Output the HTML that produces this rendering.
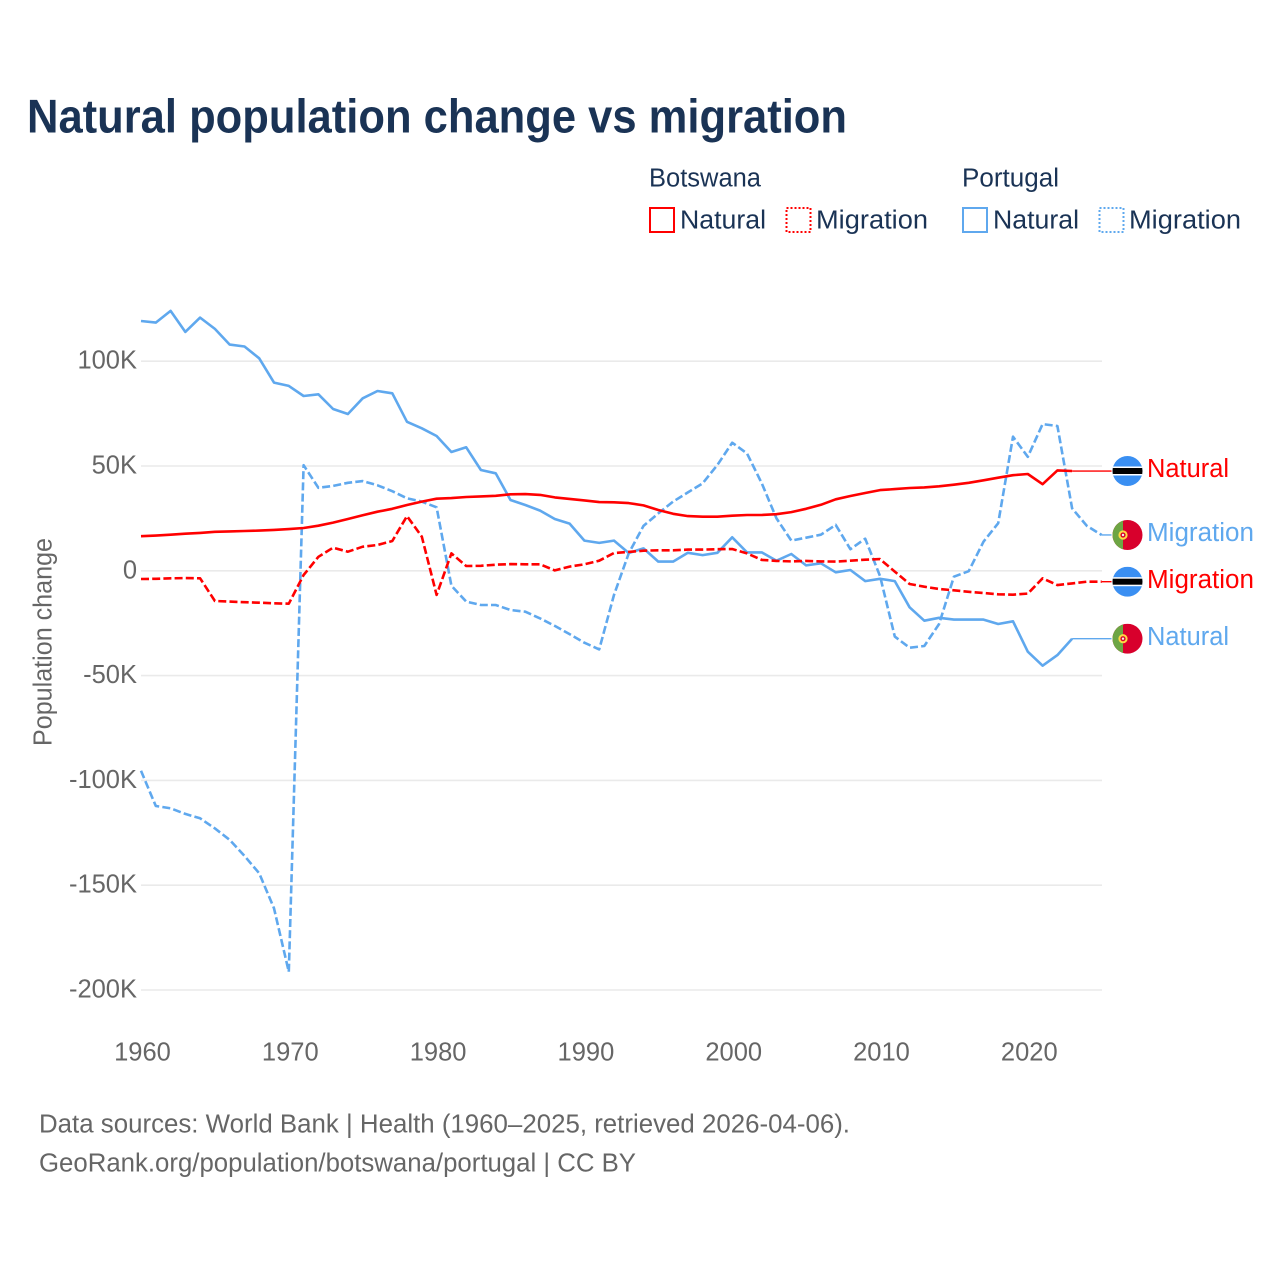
<!DOCTYPE html>
<html lang="en">
<head>
<meta charset="utf-8">
<title>Natural population change vs migration</title>
<style>
html,body{margin:0;padding:0;background:#fff;}
svg{display:block;font-family:"Liberation Sans",sans-serif;}
</style>
</head>
<body>
<svg id="chart" xmlns="http://www.w3.org/2000/svg" width="1280" height="1280" viewBox="0 0 1280 1280">
<defs><clipPath id="flag-clip"><circle cx="0" cy="0" r="15"></circle></clipPath></defs>
<rect x="0" y="0" width="1280" height="1280" fill="#ffffff"></rect>
<text x="27" y="132.5" font-size="47.5" font-weight="700" fill="#1a3355" textLength="820" lengthAdjust="spacingAndGlyphs">Natural population change vs migration</text>

<g>
<text x="649" y="186.5" font-size="25.5" fill="#1a3355" textLength="112" lengthAdjust="spacingAndGlyphs">Botswana</text>
<text x="962" y="186.5" font-size="25.5" fill="#1a3355" textLength="97" lengthAdjust="spacingAndGlyphs">Portugal</text>
<g>
<rect x="650" y="208" width="24" height="24" fill="none" stroke="#ff0000" stroke-width="2"></rect>
<text x="680" y="228.5" font-size="25.5" fill="#1a3355" textLength="86" lengthAdjust="spacingAndGlyphs">Natural</text>
</g>
<g>
<rect x="786.5" y="208" width="24" height="24" fill="none" stroke="#ff0000" stroke-width="2" stroke-dasharray="2,2"></rect>
<text x="816" y="228.5" font-size="25.5" fill="#1a3355" textLength="112" lengthAdjust="spacingAndGlyphs">Migration</text>
</g>
<g>
<rect x="963" y="208" width="24" height="24" fill="none" stroke="#5fa8ee" stroke-width="2"></rect>
<text x="993" y="228.5" font-size="25.5" fill="#1a3355" textLength="86" lengthAdjust="spacingAndGlyphs">Natural</text>
</g>
<g>
<rect x="1099.5" y="208" width="24" height="24" fill="none" stroke="#5fa8ee" stroke-width="2" stroke-dasharray="2,2"></rect>
<text x="1129" y="228.5" font-size="25.5" fill="#1a3355" textLength="112" lengthAdjust="spacingAndGlyphs">Migration</text>
</g>
</g>

<g id="grid"></g>
<g id="y-ticks"></g>
<g id="x-ticks"></g>
<text transform="translate(51.5,746) rotate(-90)" x="0" y="0" font-size="25.5" fill="#666666" textLength="208" lengthAdjust="spacingAndGlyphs">Population change</text>
<g id="series"></g>
<g id="end-labels"></g>

<g>
<text x="39" y="1132.5" font-size="25.5" fill="#666666" textLength="811" lengthAdjust="spacingAndGlyphs">Data sources: World Bank | Health (1960–2025, retrieved 2026-04-06).</text>
<text x="39" y="1171.5" font-size="25.5" fill="#666666" textLength="597" lengthAdjust="spacingAndGlyphs">GeoRank.org/population/botswana/portugal | CC BY</text>
</g>
</svg>
<script>
// Values are in thousands of people, first value is the year 1960.
const firstYear = 1960;
const yTickValues = [100, 50, 0, -50, -100, -150, -200];
const yTickLabels = ["100K", "50K", "0", "-50K", "-100K", "-150K", "-200K"];
const xTickYears = [1960, 1970, 1980, 1990, 2000, 2010, 2020];
const botswanaNatural = [16.5,16.8,17.2,17.7,18.1,18.6,18.8,19,19.2,19.5,19.9,20.4,21.5,23,24.7,26.5,28.2,29.6,31.4,33,34.4,34.7,35.2,35.5,35.8,36.5,36.6,36.2,35,34.3,33.6,32.8,32.7,32.3,31.2,29,27.2,26.1,25.8,25.8,26.3,26.6,26.6,27,28,29.6,31.5,34.1,35.7,37.1,38.5,39,39.5,39.8,40.3,41.1,42,43.2,44.4,45.6,46.2,41.3,47.9,47.6];
const botswanaMigration = [-3.9,-3.8,-3.6,-3.5,-3.6,-14.4,-14.7,-15,-15.2,-15.5,-15.7,-2,6.7,11,9.1,11.5,12.3,14.2,26.1,16.3,-11.5,8.3,2.3,2.4,2.9,3.2,3.1,3.1,0.2,2,3.1,4.8,8.5,9,9.6,9.8,9.8,10.1,10.1,10.3,10.4,8.3,5.2,4.7,4.5,4.7,4.5,4.4,4.8,5.3,5.6,-0.4,-6.3,-7.6,-8.7,-9.3,-10,-10.6,-11.2,-11.4,-10.9,-3.6,-6.8,-6,-5.2,-5.2];
const portugalNatural = [119.2,118.4,124,114,120.8,115.4,107.9,107,101.4,89.8,88.2,83.4,84.2,77.2,74.8,82.3,85.8,84.7,71.1,68,64.3,56.7,58.9,48.1,46.5,33.8,31.4,28.7,24.7,22.5,14.4,13.3,14.4,8.5,10.7,4.4,4.4,8.6,7.5,8.6,16,8.8,8.8,4.8,8,2.6,3.6,-0.7,0.4,-4.9,-3.8,-4.9,-17.4,-23.8,-22.4,-23.3,-23.3,-23.3,-25.4,-24.1,-38.6,-45.3,-40.2,-32.4];
const portugalMigration = [-95.4,-112.2,-113.3,-116,-118.1,-122.9,-128.4,-136,-144.3,-161,-191.3,50.4,39.6,40.5,42,42.8,40.8,38,34.6,33,30.3,-7.1,-14.7,-16.3,-16.3,-18.7,-19.5,-22.7,-26.3,-30.2,-34.3,-37.5,-11.5,8.3,21.4,27.4,33,37.4,41.7,50.5,61.1,56,41.7,25,14.4,15.8,17.2,21.9,10.3,15.3,-2.5,-31.4,-36.7,-35.9,-25.4,-2.8,-0.2,13.9,22.7,64,54.4,70,69.1,29.8,21.4,17.1];

const NS = "http://www.w3.org/2000/svg";
function xScale(year) { return 141 + (year - 1960) * 14.78; }
function yScale(v) { return 570.8 - v * 2.096; }
function make(tag, attrs, parent) {
  const el = document.createElementNS(NS, tag);
  for (const k in attrs) el.setAttribute(k, attrs[k]);
  parent.appendChild(el);
  return el;
}

const gridG = document.getElementById("grid");
const yTickG = document.getElementById("y-ticks");
yTickValues.forEach(function (v, i) {
  const line = make("line", {x1: 141, x2: 1102, y1: yScale(v), y2: yScale(v), stroke: "#eaeaea", "stroke-width": 1.6}, gridG);
  
  
  const t = make("text", {x: 137, y: yScale(v) + 7.5, "text-anchor": "end", "font-size": 25.5, fill: "#666666"}, yTickG);
  
  
  t.textContent = yTickLabels[i];
});

const xTickG = document.getElementById("x-ticks");
xTickYears.forEach(function (yr) {
  const t = make("text", {x: xScale(yr) + 1.5, y: 1060.5, "text-anchor": "middle", "font-size": 25.5, fill: "#666666"}, xTickG);
  
  
  t.textContent = String(yr);
});

const seriesG = document.getElementById("series");
function drawSeries(values, color, dashed, seriesName) {
  const pts = values.map(function (v, i) {
    return xScale(firstYear + i).toFixed(1) + "," + yScale(v).toFixed(1);
  }).join(" ");
  const attrs = {points: pts, fill: "none", stroke: color, "stroke-width": 2.6, "stroke-linejoin": "round"};
  if (dashed) attrs["stroke-dasharray"] = "8,3.2";
  const line = make("polyline", attrs, seriesG);
  
  
  const lastX = xScale(firstYear + values.length - 1);
  const lastY = yScale(values[values.length - 1]);
  const conn = make("line", {x1: lastX, x2: 1112, y1: lastY, y2: lastY, stroke: color, "stroke-width": 1.4}, seriesG);
  
  
}
drawSeries(portugalMigration, "#5fa8ee", true, "portugal-migration-line");
drawSeries(portugalNatural, "#5fa8ee", false, "portugal-natural-line");
drawSeries(botswanaMigration, "#ff0000", true, "botswana-migration-line");
drawSeries(botswanaNatural, "#ff0000", false, "botswana-natural-line");

const endG = document.getElementById("end-labels");
function botswanaFlag(g) {
  make("rect", {x: -15, y: -15, width: 30, height: 30, fill: "#3a8ff2"}, g);
  make("rect", {x: -15, y: -4.5, width: 30, height: 9, fill: "#ffffff"}, g);
  make("rect", {x: -15, y: -3, width: 30, height: 6, fill: "#000000"}, g);
}
function portugalFlag(g) {
  make("rect", {x: -15, y: -15, width: 30, height: 30, fill: "#d8002c"}, g);
  make("rect", {x: -15, y: -15, width: 10.5, height: 30, fill: "#6da544"}, g);
  make("circle", {cx: -4.5, cy: 0, r: 4.6, fill: "#ffda44"}, g);
  make("circle", {cx: -4.5, cy: 0, r: 2.6, fill: "#d8002c"}, g);
  make("circle", {cx: -4.5, cy: 0, r: 1.2, fill: "#f0f0f0"}, g);
}
function drawEnd(values, color, word, flagFn, flagName) {
  const y = yScale(values[values.length - 1]);
  const g = make("g", {transform: "translate(1127.5," + y.toFixed(1) + ")"}, endG);
  
  
  make("circle", {cx: 0, cy: 0, r: 16, fill: "#ffffff"}, g);
  const inner = make("g", {"clip-path": "url(#flag-clip)"}, g);
  flagFn(inner);
  const t = make("text", {x: 1147, y: y + 6.2, "font-size": 25.5, fill: color, textLength: word === "Natural" ? 82 : 107, lengthAdjust: "spacingAndGlyphs"}, endG);
  
  
  t.textContent = word;
}
drawEnd(botswanaNatural, "#ff0000", "Natural", botswanaFlag, "botswana-flag-icon");
drawEnd(portugalMigration, "#5fa8ee", "Migration", portugalFlag, "portugal-flag-icon");
drawEnd(botswanaMigration, "#ff0000", "Migration", botswanaFlag, "botswana-flag-icon");
drawEnd(portugalNatural, "#5fa8ee", "Natural", portugalFlag, "portugal-flag-icon");
</script>
</body>
</html>
